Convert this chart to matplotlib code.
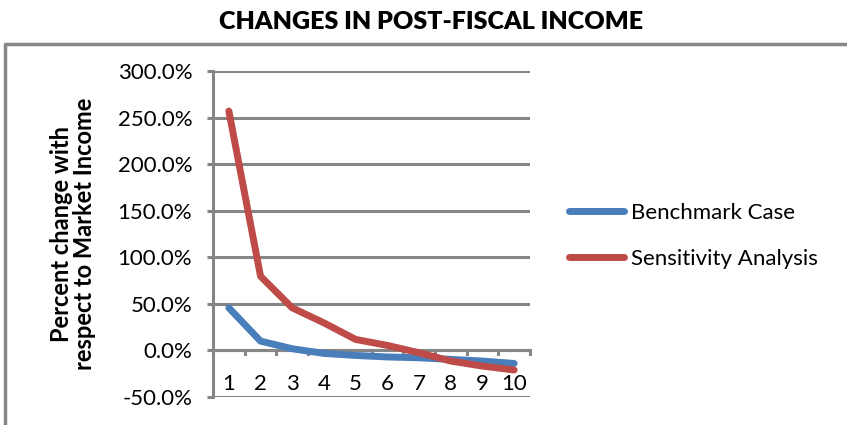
import matplotlib
matplotlib.use("Agg")
import matplotlib.pyplot as plt
from matplotlib.lines import Line2D
from matplotlib.ticker import FuncFormatter

deciles = [1, 2, 3, 4, 5, 6, 7, 8, 9, 10]
benchmark = [45.7, 10.0, 1.8, -3.2, -5.4, -7.0, -7.9, -9.6, -11.4, -14.0]
sensitivity = [257.0, 79.6, 45.7, 29.6, 11.8, 5.4, -2.5, -11.4, -16.8, -21.0]
series_names = ["Benchmark Case", "Sensitivity Analysis"]
y_ticks = [-50, 0, 50, 100, 150, 200, 250, 300]

BLUE = "#4a7ebb"
RED = "#be4b48"
GRAY = "#868686"
FONT = ["Lato", "DejaVu Sans"]

plt.rcParams["font.family"] = FONT

fig = plt.figure(figsize=(8.47, 4.25), dpi=100)
ax = fig.add_axes([213 / 847, 1 - 397 / 425, (530 - 213) / 847, (397 - 71) / 425])

ax.plot(deciles, benchmark, color=BLUE, lw=5, solid_capstyle="round", zorder=3)
ax.plot(deciles, sensitivity, color=RED, lw=5, solid_capstyle="round", zorder=4)

ax.set_xlim(0.5, 10.5)
ax.set_ylim(-50, 300)
ax.set_yticks(y_ticks)
ax.yaxis.set_major_formatter(FuncFormatter(lambda v, p: f"{v:.1f}%"))
ax.grid(axis="y", color=GRAY, lw=2.2, zorder=1)
ax.set_axisbelow(True)

for side in ["top", "right", "bottom"]:
    ax.spines[side].set_visible(False)
ax.spines["left"].set_color(GRAY)
ax.spines["left"].set_linewidth(2.2)

# category axis drawn at zero, with boundary ticks hanging below it
ax.axhline(0, color=GRAY, lw=2.2, zorder=2)
ax.set_xticks([])
for b in [i + 0.5 for i in range(0, 11)]:
    ax.plot([b, b], [0, -3.8], color=GRAY, lw=2.2, zorder=2, clip_on=False)
for d in deciles:
    ax.text(d, -36, str(d), ha="center", va="center", fontsize=16, color="black")

ax.tick_params(axis="y", length=4, width=2.2, color=GRAY, labelsize=16, pad=11,
               labelcolor="black")

ax.set_ylabel("Percent change with\nrespect to Market Income", fontsize=17,
              fontweight="bold", linespacing=1.0)
ax.yaxis.set_label_coords(-0.37, 0.5)

fig.text(431 / 847, 1 - 22 / 425, "CHANGES IN POST-FISCAL INCOME", ha="center",
         va="center", fontsize=18, fontweight="heavy", family=FONT)

# chart frame
frame = Line2D([5 / 847, 5 / 847, 1.0], [0.0, 1 - 44 / 425, 1 - 44 / 425],
               transform=fig.transFigure, color=GRAY, lw=2.5)
fig.add_artist(frame)

handles = [Line2D([], [], color=BLUE, lw=5, solid_capstyle="round"),
           Line2D([], [], color=RED, lw=5, solid_capstyle="round")]
fig.legend(handles, series_names, loc="center left",
           bbox_to_anchor=(560 / 847, 1 - 236 / 425), frameon=False,
           fontsize=16, handlelength=2.5, handletextpad=0.3, labelspacing=1.15,
           borderaxespad=0)

fig.savefig("out.png", dpi=100)
